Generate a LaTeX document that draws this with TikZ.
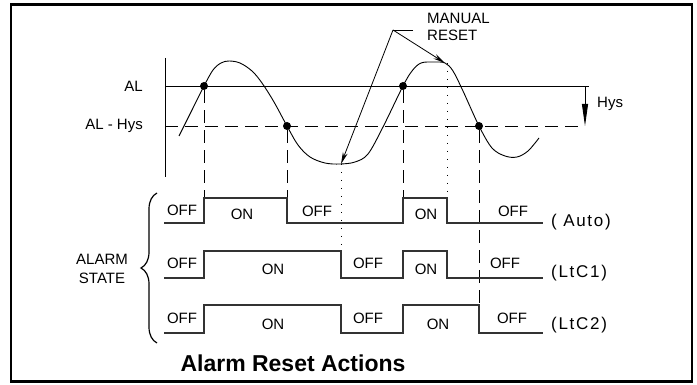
\documentclass[tikz,border=0pt]{standalone}
\usepackage{fontspec}
\setmainfont{Liberation Sans}
\newfontfamily\segfont[LetterSpace=10]{Liberation Sans}
\usetikzlibrary{arrows.meta,decorations.pathreplacing}
\begin{document}
\begin{tikzpicture}[x=1pt,y=-1pt,
  lbl/.style={font=\fontsize{15}{17}\selectfont, inner sep=0pt},
  seg/.style={font=\segfont\fontsize{17}{17}\selectfont, inner sep=0pt, anchor=west},
  wave/.style={line width=1.3pt, black!80},
  guide/.style={line width=0.9pt, dash pattern=on 13pt off 7pt},
  dotguide/.style={line width=0.8pt, dash pattern=on 1pt off 7pt},
  dotmark/.style={circle, fill, inner sep=0pt, minimum size=8pt},
  ptr/.style={line width=0.8pt, -{Stealth[length=12pt,width=5pt]}}]
\useasboundingbox (0,0) rectangle (697,385);
\draw[line width=2.6pt] (11,4.5) rectangle (692,381.5);

% levels
\draw[line width=0.9pt] (165,58) -- (165,177);
\draw[line width=0.9pt] (165,86) -- (589,86);
\draw[guide] (165,126) -- (585,126);
\node[lbl, anchor=east] (al) at (143,86) {AL};
\node[lbl, anchor=east] (alhys) at (143,126) {AL - Hys};

\coordinate (hystop) at (585,87);
\coordinate (hysbot) at (585,126);
\draw[line width=0.9pt, -{Triangle[length=22pt,width=6pt]}] (hystop) -- (hysbot);
\node[lbl, anchor=west] (hys) at (597,104) {Hys};

% process value
\draw[line width=0.9pt] plot[smooth, tension=0.55] coordinates {
  (179,136) (192,110) (204,86) (213,70) (221,63) (229,61) (240,63) (252,71)
  (262,83) (274,102) (287,126) (298,145) (310,157) (325,163) (340,164)
  (355,162) (368,154) (383,127) (403,86) (412,71) (421,63) (434,62)
  (445,63) (453,71) (463,91) (479,126) (492,148) (505,156) (517,157)
  (528,151) (539,138)};

\node[dotmark] (on1) at (204,86) {};
\node[dotmark] (off1) at (287,126) {};
\node[dotmark] (on2) at (403,86) {};
\node[dotmark] (off2) at (479,126) {};
\coordinate (low1) at (341,164);
\coordinate (high2) at (445,63);

% guides down to the states
\draw[guide] (on1) -- (204,198);
\draw[guide] (off1) -- (287,198);
\draw[guide] (on2) -- (403,198);
\draw[guide] (off2) -- (479,305);
\draw[dotguide] (low1) -- (341,251);
\draw[dotguide] (447,63) -- (447,198);

% manual reset
\node[lbl, align=left, anchor=north west] (manual) at (427,13) {MANUAL\\RESET};
\coordinate (knee) at (393,30);
\coordinate (kneeend) at (413,30);
\draw[line width=0.8pt] (kneeend) -- (knee);
\draw[ptr] (knee) -- (low1);
\draw[ptr] (knee) -- (high2);

% alarm states
\draw[wave] (164,223) -- (204,223) -- (204,198) -- (287,198) -- (287,223) -- (403,223)
  -- (403,198) -- (447,198) -- (447,223) -- (543,223);
\draw[wave] (164,278) -- (204,278) -- (204,251) -- (341,251) -- (341,278) -- (403,278)
  -- (403,251) -- (447,251) -- (447,278) -- (543,278);
\draw[wave] (164,333) -- (204,333) -- (204,305) -- (341,305) -- (341,333) -- (403,333)
  -- (403,305) -- (479,305) -- (479,333) -- (543,333);

\node[lbl] (a1) at (182,210) {OFF};
\node[lbl] (a2) at (242,214) {ON};
\node[lbl] (a3) at (317,211) {OFF};
\node[lbl] (a4) at (426,214) {ON};
\node[lbl] (a5) at (513,211) {OFF};
\node[lbl] (b1) at (182,263) {OFF};
\node[lbl] (b2) at (273,269) {ON};
\node[lbl] (b3) at (368,263) {OFF};
\node[lbl] (b4) at (426,269) {ON};
\node[lbl] (b5) at (505,263) {OFF};
\node[lbl] (c1) at (182,318) {OFF};
\node[lbl] (c2) at (273,324) {ON};
\node[lbl] (c3) at (368,318) {OFF};
\node[lbl] (c4) at (438,324) {ON};
\node[lbl] (c5) at (512,318) {OFF};

\node[seg] (auto) at (551,222) {( Auto)};
\node[seg] (ltc1) at (551,273) {(LtC1)};
\node[seg] (ltc2) at (551,325) {(LtC2)};

\draw[line width=1.2pt, decorate, decoration={brace, amplitude=16pt}] (157,343) -- (157,193);
\node[lbl, align=center, font=\fontsize{15}{19}\selectfont] (state) at (102,269) {ALARM\\STATE};

\node[inner sep=0pt, font=\fontsize{23}{23}\selectfont\bfseries] (title) at (293,363) {Alarm Reset Actions};
\end{tikzpicture}
\end{document}
